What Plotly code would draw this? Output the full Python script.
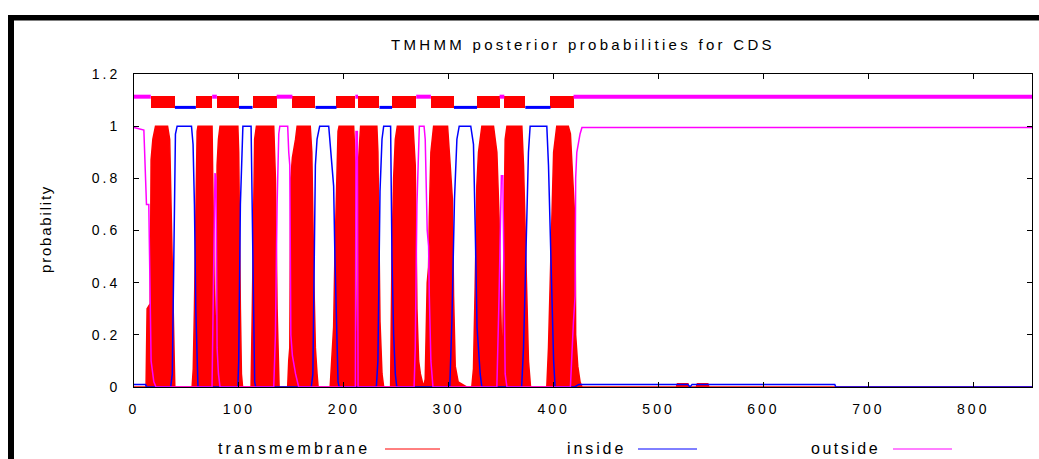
import plotly.graph_objects as go

seq_len = 856
title_text = "TMHMM posterior probabilities for CDS"
y_label = "probability"
legend_names = ["transmembrane", "inside", "outside"]

x_tick_vals = [0, 100, 200, 300, 400, 500, 600, 700, 800]
y_tick_vals = [0, 0.2, 0.4, 0.6, 0.8, 1.0, 1.2]
y_tick_text = ["0", "0.2", "0.4", "0.6", "0.8", "1", "1.2"]

# predicted topology (residue ranges) for the track above the curves
tm_start = [16, 59, 79, 113, 151, 193, 213.5, 246, 283, 327, 353, 397]
tm_end = [39, 74.5, 100, 136, 173, 211, 234, 269, 305, 348.5, 373, 419]
inside_start = [39, 100, 173, 234, 305, 373]
inside_end = [59, 113, 193, 246, 327, 397]
outside_start = [0, 74.5, 136, 211, 269, 348.5, 419]
outside_end = [16, 79, 151, 213.5, 283, 353, 856]

# posterior probability of transmembrane state
tm_x = [0, 11.5, 12.5, 15.5, 16.3, 18, 20.5, 32, 34, 35.4, 37.3, 38.9,
        55.4, 56.5, 57.6, 58.9, 60.2, 61, 74.4, 75.4, 76.5, 77.2, 78.2, 79.2, 80.5, 82,
        99, 99.8, 101.4, 102.4, 103.5,
        111.6, 112.8, 114.1, 115, 116.7, 133.2, 134.8, 136.4, 138.3,
        146.5, 147.5, 148.5, 149.5, 151, 154, 155.5, 168, 169.5, 171.5, 172.9, 174.5, 175.5,
        187, 188.5, 190.3, 191.5, 192.6, 194.5, 195.5, 209.4, 211, 211.8, 212.8, 213.8, 216,
        231.5, 232.5, 234.5, 236.4, 238,
        244.6, 245.9, 247.5, 249.1, 251, 266, 268.1, 269.7, 271.3, 273, 276,
        277.6, 279.5, 280.8, 281.5, 283, 285.6, 298.9, 301.4, 303.5, 304.6, 306.2, 309, 317,
        322, 323.6, 325.2, 326.8, 328.4, 331.6, 342.7, 345.9, 348, 349.5, 350.2, 351.6, 352.5,
        353.8, 355.5, 369.7, 371.3, 372.9, 374.5, 376, 378,
        393.5, 395.1, 396.7, 398.3, 400, 403, 414, 416, 418.9, 420.5, 421, 423, 425.2, 427,
        517, 518, 528, 529, 536, 537, 547, 548, 856]
tm_y = [0, 0, 0.30, 0.32, 0.87, 0.95, 1.0, 1.0, 0.95, 0.69, 0.30, 0,
        0, 0.07, 0.30, 0.70, 0.98, 1.0, 1.0, 0.70, 0.35, 0.18, 0.20, 0.85, 0.95, 1.0,
        1.0, 0.90, 0.30, 0.05, 0,
        0, 0.30, 0.80, 0.95, 1.0, 1.0, 0.80, 0.30, 0,
        0, 0.10, 0.15, 0.80, 0.88, 0.95, 1.0, 1.0, 0.90, 0.40, 0.15, 0.05, 0,
        0, 0.10, 0.23, 0.50, 0.70, 0.98, 1.0, 1.0, 0.85, 0, 0, 0.85, 1.0,
        1.0, 0.90, 0.25, 0.05, 0,
        0, 0.50, 0.80, 0.95, 1.0, 1.0, 0.85, 0.30, 0.10, 0.05, 0,
        0.03, 0.40, 0.46, 0.65, 0.90, 1.0, 1.0, 0.85, 0.72, 0.35, 0.08, 0.02, 0,
        0, 0.07, 0.38, 0.77, 0.90, 1.0, 1.0, 0.90, 0.65, 0.30, 0.19, 0.19, 0.60,
        0.95, 1.0, 1.0, 0.85, 0.60, 0.30, 0.10, 0,
        0, 0.15, 0.40, 0.70, 0.90, 1.0, 1.0, 0.97, 0.72, 0.62, 0.20, 0.08, 0.02, 0,
        0, 0.012, 0.012, 0, 0, 0.012, 0.012, 0, 0]

# posterior probability of inside state
in_x = [0, 11, 12, 35, 36.5, 37.3, 38.3, 39.5, 41.1, 54.8, 56.3, 57.6, 58.9, 60.2, 61,
        99, 99.8, 101.4, 103, 103.8, 111.6, 112.8, 114.1, 115, 116,
        169, 170.5, 171.5, 172.9, 174.5, 177, 185.6, 188, 190.3, 191.5, 192.6, 194.5, 195.5,
        231, 232.5, 234.5, 236.4, 238, 244.6, 245.9, 247.5, 249.1, 250.5,
        301, 303, 304.6, 305.5, 307.8, 310, 321, 323.6, 325.2, 326, 327, 330, 331.6,
        369.5, 371.3, 372.9, 374.5, 376, 377.6, 393.5, 395.1, 396.7, 398.3, 400, 401.4,
        420, 424, 528, 530, 532, 668, 669, 856]
in_y = [0.01, 0.01, 0, 0, 0.05, 0.30, 0.70, 0.97, 1.0, 1.0, 0.93, 0.70, 0.30, 0.02, 0,
        0, 0.10, 0.70, 0.97, 1.0, 1.0, 0.70, 0.20, 0.02, 0,
        0, 0.05, 0.50, 0.85, 0.95, 1.0, 1.0, 0.87, 0.77, 0.50, 0.30, 0.02, 0,
        0, 0.10, 0.75, 0.95, 1.0, 1.0, 0.50, 0.20, 0.05, 0,
        0, 0.25, 0.62, 0.72, 0.95, 1.0, 1.0, 0.93, 0.62, 0.40, 0.23, 0.05, 0,
        0, 0.15, 0.40, 0.70, 0.90, 1.0, 1.0, 0.85, 0.60, 0.30, 0.10, 0,
        0, 0.01, 0.01, 0, 0.01, 0.01, 0, 0]

# posterior probability of outside state
out_x = [0, 9.4, 11.9, 14.1, 16.3, 18.9, 21,
         74.4, 75.4, 76.5, 77.2, 78.2, 79.2, 80.5, 82,
         133.2, 134.8, 136.4, 138, 139, 146.5, 147.5, 148.5, 149.5, 151, 154, 157,
         211, 211.6, 212.9, 213.6,
         267, 268.1, 269.7, 271.3, 272, 276.5, 277.6, 279.5, 280.8, 281.5, 283, 285,
         345.9, 348, 349.5, 350.2, 351.6, 352.5, 353.8, 355.5,
         416, 418.9, 420.5, 421, 422.1, 425.2, 427, 856]
out_y = [0.995, 0.985, 0.70, 0.70, 0.10, 0.02, 0,
         0, 0.30, 0.65, 0.82, 0.80, 0.15, 0.05, 0,
         0, 0.20, 0.70, 0.97, 1.0, 1.0, 0.90, 0.85, 0.20, 0.12, 0.05, 0,
         0, 0.98, 0.98, 0,
         0, 0.15, 0.70, 0.98, 1.0, 1.0, 0.95, 0.60, 0.54, 0.35, 0.10, 0,
         0, 0.35, 0.70, 0.81, 0.81, 0.40, 0.05, 0,
         0, 0.25, 0.35, 0.80, 0.90, 0.97, 0.995, 0.995]

RED = "#ff0000"
BLUE = "#0000ff"
MAGENTA = "#ff00ff"
FONT = "Liberation Sans"

# track levels above the probability curves
TRACK_OUT = 1.113
TRACK_IN = 1.072
BOX_LO, BOX_HI = 1.068, 1.117

W, H = 1039, 459
ML, MR, MT, MB = 134, 7, 74, 72
PW, PH = W - ML - MR, H - MT - MB


def px(x):
    return (x - ML) / PW


def py(y):
    return (H - MB - y) / PH


def spaced(text, gap):
    return f'<span style="letter-spacing:{gap}px">{text}</span>'


def segments(starts, ends, level):
    xs, ys = [], []
    for s, e in zip(starts, ends):
        xs += [s, e, None]
        ys += [level, level, None]
    return xs, ys


fig = go.Figure()

fig.add_trace(go.Scatter(x=tm_x, y=tm_y, mode="lines", fill="tozeroy",
                         fillcolor=RED, line=dict(color=RED, width=1.5),
                         name=legend_names[0], showlegend=False))
fig.add_trace(go.Scatter(x=in_x, y=in_y, mode="lines",
                         line=dict(color=BLUE, width=1.5),
                         name=legend_names[1], showlegend=False))
fig.add_trace(go.Scatter(x=out_x, y=out_y, mode="lines",
                         line=dict(color=MAGENTA, width=1.5),
                         name=legend_names[2], showlegend=False))

ox, oy = segments(outside_start, outside_end, TRACK_OUT)
fig.add_trace(go.Scatter(x=ox, y=oy, mode="lines", line=dict(color=MAGENTA, width=4),
                         showlegend=False, hoverinfo="skip"))
ix, iy = segments(inside_start, inside_end, TRACK_IN)
fig.add_trace(go.Scatter(x=ix, y=iy, mode="lines", line=dict(color=BLUE, width=3),
                         showlegend=False, hoverinfo="skip"))
fig.add_trace(go.Bar(x=[(s + e) / 2 for s, e in zip(tm_start, tm_end)],
                     y=[BOX_HI - BOX_LO] * len(tm_start),
                     width=[e - s for s, e in zip(tm_start, tm_end)],
                     base=BOX_LO, marker=dict(color=RED, line=dict(width=0)),
                     showlegend=False, hoverinfo="skip"))

axis_common = dict(showline=True, linecolor="black", linewidth=1, mirror="ticks",
                   ticks="inside", ticklen=5, tickcolor="black", showgrid=False,
                   zeroline=False, tickfont=dict(family=FONT, size=14, color="black"))

fig.update_layout(
    width=W, height=H, margin=dict(l=ML, r=MR, t=MT, b=MB),
    paper_bgcolor="white", plot_bgcolor="white", showlegend=False, bargap=0,
    title=dict(text=spaced(title_text, 3.3), x=583 / W,
               xanchor="center", y=1 - 45 / H, yanchor="middle",
               font=dict(family=FONT, size=15, color="black")),
    xaxis=dict(range=[0, seq_len], tickvals=x_tick_vals,
               ticktext=[spaced(str(v), 3) for v in x_tick_vals],
               ticklabelstandoff=9, **axis_common),
    yaxis=dict(range=[0, 1.2], tickvals=y_tick_vals,
               ticktext=[spaced(t, 3) for t in y_tick_text],
               ticklabelstandoff=10, **axis_common),
)

# y-axis label
fig.add_annotation(text=spaced(y_label, 1.8), xref="paper", yref="paper",
                   x=px(45), y=py(229), textangle=-90, showarrow=False,
                   xanchor="center", yanchor="middle",
                   font=dict(family=FONT, size=15, color="black"))

# legend row below the axis: label followed by a line sample
legend_text_right = [372, 628, 882]
legend_line_span = [(385, 440), (638, 697), (893, 952)]
legend_colors = [RED, BLUE, MAGENTA]
legend_gaps = [3.1, 2.9, 2.5]
for name, xr, (l0, l1), c, g in zip(legend_names, legend_text_right, legend_line_span,
                                    legend_colors, legend_gaps):
    fig.add_annotation(text=spaced(name, g), xref="paper", yref="paper",
                       x=px(xr), y=py(449), xanchor="right", yanchor="middle",
                       showarrow=False, font=dict(family=FONT, size=16, color="black"))
    fig.add_shape(type="line", xref="paper", yref="paper", x0=px(l0), x1=px(l1),
                  y0=py(449), y1=py(449), line=dict(color=c, width=1))

# heavy frame along the top and left edges of the image
fig.add_shape(type="rect", xref="paper", yref="paper", x0=px(8), x1=px(W + 2),
              y0=py(20.5), y1=py(15), fillcolor="black", line=dict(width=0))
fig.add_shape(type="rect", xref="paper", yref="paper", x0=px(8), x1=px(14),
              y0=py(H + 2), y1=py(15), fillcolor="black", line=dict(width=0))

fig.write_html("out.html")
